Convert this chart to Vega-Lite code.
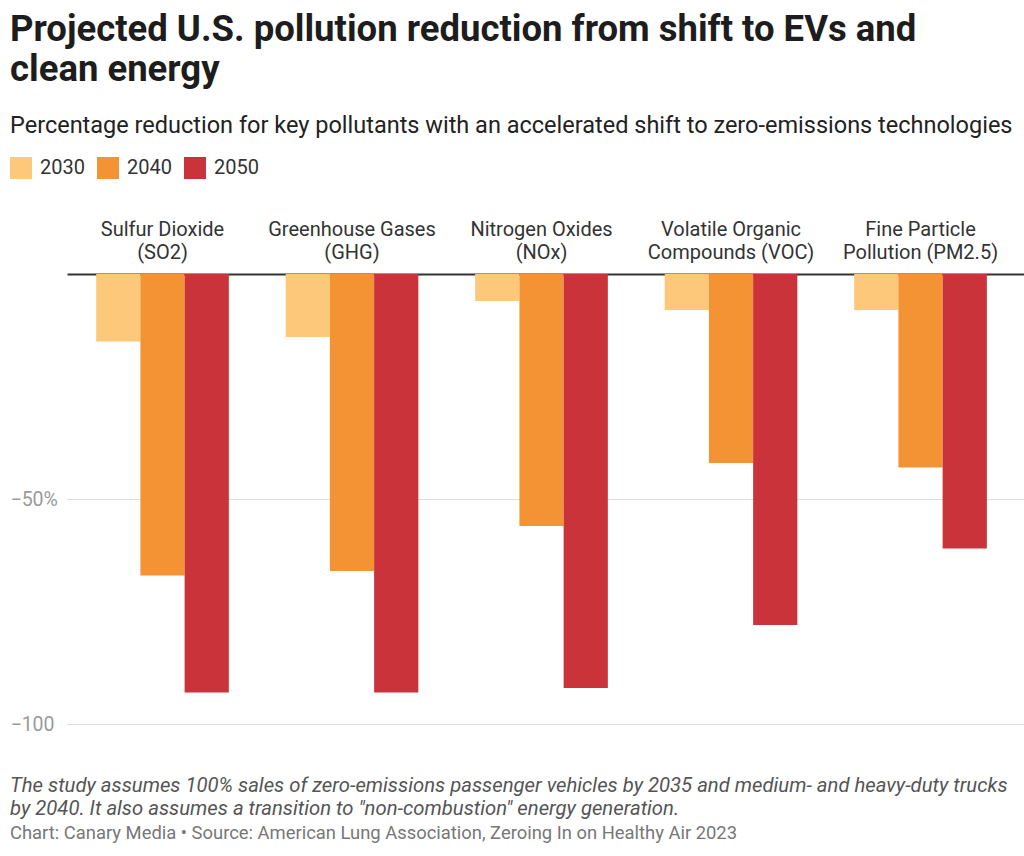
{
  "$schema": "https://vega.github.io/schema/vega-lite/v6.json",
  "background": "white",
  "padding": {"left": 10, "top": 12, "right": 0, "bottom": 10},
  "config": {"font": "Roboto", "view": {"stroke": null}},
  "title": {
    "text": ["Projected U.S. pollution reduction from shift to EVs and", "clean energy"],
    "subtitle": "Percentage reduction for key pollutants with an accelerated shift to zero-emissions technologies",
    "anchor": "start",
    "frame": "bounds",
    "font": "Roboto",
    "fontSize": 36.5,
    "fontWeight": "bold",
    "color": "#1d1d1d",
    "lineHeight": 40,
    "subtitleFont": "Roboto",
    "subtitleFontSize": 23.5,
    "subtitleColor": "#222222",
    "subtitlePadding": 25,
    "offset": 20
  },
  "resolve": {"scale": {"color": "independent"}, "legend": {"color": "independent"}},
  "vconcat": [
    {
      "width": 957,
      "height": 450,
      "title": {
        "text": ["The study assumes 100% sales of zero-emissions passenger vehicles by 2035 and medium- and heavy-duty trucks", "by 2040. It also assumes a transition to \"non-combustion\" energy generation."],
        "subtitle": "Chart: Canary Media • Source: American Lung Association, Zeroing In on Healthy Air 2023",
        "orient": "bottom",
        "anchor": "start",
        "frame": "bounds",
        "font": "Roboto",
        "fontSize": 20.3,
        "fontStyle": "italic",
        "fontWeight": "normal",
        "color": "#555555",
        "lineHeight": 23,
        "subtitleFont": "Roboto",
        "subtitleFontSize": 18.4,
        "subtitleColor": "#777777",
        "subtitlePadding": 5,
        "offset": 42
      },
      "data": {
        "values": [
          {"pollutant": "Sulfur Dioxide|(SO2)", "year": "2030", "value": -15},
          {"pollutant": "Sulfur Dioxide|(SO2)", "year": "2040", "value": -67},
          {"pollutant": "Sulfur Dioxide|(SO2)", "year": "2050", "value": -93},
          {"pollutant": "Greenhouse Gases|(GHG)", "year": "2030", "value": -14},
          {"pollutant": "Greenhouse Gases|(GHG)", "year": "2040", "value": -66},
          {"pollutant": "Greenhouse Gases|(GHG)", "year": "2050", "value": -93},
          {"pollutant": "Nitrogen Oxides|(NOx)", "year": "2030", "value": -6},
          {"pollutant": "Nitrogen Oxides|(NOx)", "year": "2040", "value": -56},
          {"pollutant": "Nitrogen Oxides|(NOx)", "year": "2050", "value": -92},
          {"pollutant": "Volatile Organic|Compounds (VOC)", "year": "2030", "value": -8},
          {"pollutant": "Volatile Organic|Compounds (VOC)", "year": "2040", "value": -42},
          {"pollutant": "Volatile Organic|Compounds (VOC)", "year": "2050", "value": -78},
          {"pollutant": "Fine Particle|Pollution (PM2.5)", "year": "2030", "value": -8},
          {"pollutant": "Fine Particle|Pollution (PM2.5)", "year": "2040", "value": -43},
          {"pollutant": "Fine Particle|Pollution (PM2.5)", "year": "2050", "value": -61}
        ]
      },
      "mark": {"type": "bar"},
      "encoding": {
        "x": {
          "field": "pollutant",
          "type": "nominal",
          "sort": null,
          "scale": {"paddingInner": 0.3, "paddingOuter": 0.175, "align": 0.44},
          "axis": {
            "orient": "top",
            "title": null,
            "labelExpr": "split(datum.label, '|')",
            "labelAngle": 0,
            "labelFont": "Roboto",
            "labelFontSize": 20,
            "labelColor": "#333333",
            "labelLineHeight": 23,
            "labelBaseline": "alphabetic",
            "labelPadding": 39,
            "labelLimit": 300,
            "ticks": false,
            "domain": true,
            "domainColor": "#333333",
            "domainWidth": 2,
            "grid": false
          }
        },
        "xOffset": {"field": "year", "type": "nominal", "scale": {"paddingInner": 0, "paddingOuter": 0}},
        "y": {
          "field": "value",
          "type": "quantitative",
          "scale": {"domain": [-100, 0], "nice": false},
          "axis": {
            "title": null,
            "values": [-100, -50],
            "labelExpr": "datum.value == -50 ? '−50%' : '−100'",
            "labelAlign": "left",
            "labelPadding": 57,
            "labelFont": "Roboto",
            "labelFontSize": 19.5,
            "labelColor": "#9a9a9a",
            "ticks": false,
            "domain": false,
            "grid": true,
            "gridColor": "#dddddd",
            "gridWidth": 1
          }
        },
        "color": {
          "field": "year",
          "type": "nominal",
          "scale": {"domain": ["2030", "2040", "2050"], "range": ["#FDC87A", "#F39334", "#C93339"]},
          "legend": {
            "title": null,
            "orient": "none",
            "direction": "horizontal",
            "legendX": -57,
            "legendY": -117,
            "symbolType": "square",
            "symbolSize": 484,
            "symbolStrokeWidth": 0,
            "labelFont": "Roboto",
            "labelFontSize": 20,
            "labelColor": "#333333",
            "labelOffset": 8,
            "columnPadding": 12
          }
        }
      }
    }
  ]
}
